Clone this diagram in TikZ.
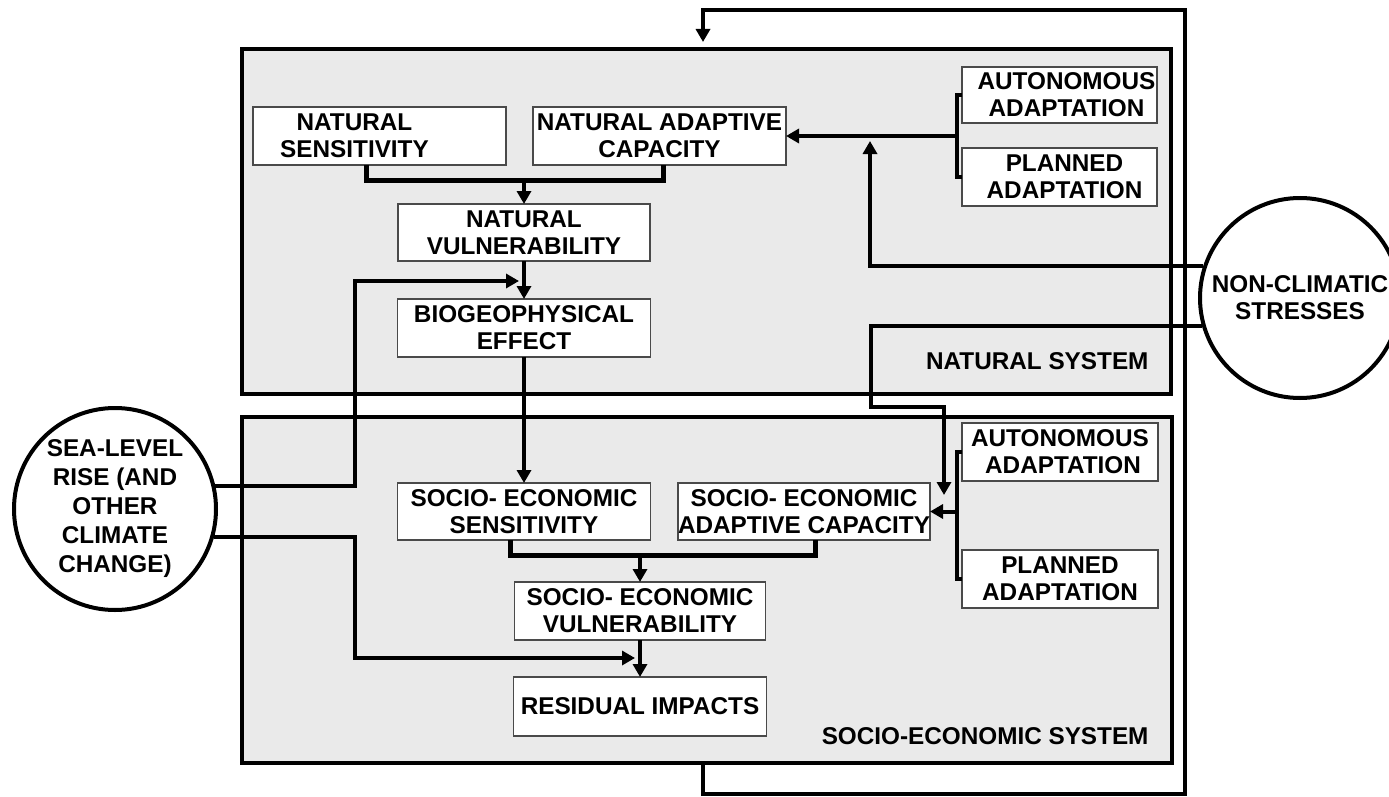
\documentclass[tikz,border=0pt]{standalone}
\usepackage{fontspec}
\setmainfont{Liberation Sans}
\usetikzlibrary{arrows.meta,calc}
\definecolor{sysgray}{HTML}{EAEAEA}
\definecolor{boxline}{HTML}{4A4A4A}
\begin{document}
\begin{tikzpicture}[x=1pt,y=-1pt,
  txt/.style={font=\fontsize{24.3}{27}\selectfont\bfseries, align=center},
  box/.style={txt, draw=boxline, line width=1.5pt, fill=white, inner sep=0pt, outer sep=0pt, minimum height=58pt},
  sys/.style={draw=black, line width=4pt, fill=sysgray, inner sep=0pt},
  circ/.style={circle, draw=black, line width=4pt, fill=white, inner sep=0pt, align=center},
  ln/.style={line width=4pt, line join=miter},
  mrg/.style={line width=5pt, line join=miter},
  arr/.style={line width=4pt, line join=miter, -{Triangle[width=14pt,length=13pt]}},
]
\useasboundingbox (0,0) rectangle (1389,797);

% system containers
\node[sys, minimum width=929pt, minimum height=345pt] (nat) at (706.5,221.5) {};
\node[sys, minimum width=930pt, minimum height=346pt] (soc) at (707,590) {};
\node[txt, anchor=base east] (natl) at (1152,369) {NATURAL SYSTEM};
\node[txt, anchor=base east] (socl) at (1152,744) {SOCIO-ECONOMIC SYSTEM};

% natural system boxes
\node[box, minimum width=253pt] (ns) at (379.5,136) {NATURAL\hspace*{50pt}\\SENSITIVITY\hspace*{50pt}};
\node[box, minimum width=253pt] (nac) at (659.5,136) {NATURAL ADAPTIVE\\CAPACITY};
\node[box, minimum width=252pt, minimum height=57pt] (nv) at (524,232.5) {NATURAL\\VULNERABILITY};
\node[box, minimum width=253pt] (bio) at (524,328) {BIOGEOPHYSICAL\\EFFECT};
\node[box, minimum width=195pt, minimum height=56pt] (aa1) at (1059.5,95) {\hspace*{14pt}AUTONOMOUS\\\hspace*{14pt}ADAPTATION};
\node[box, minimum width=195pt] (pa1) at (1059.5,177) {\hspace*{10pt}PLANNED\\\hspace*{10pt}ADAPTATION};

% socio-economic boxes
\node[box, minimum width=253pt, minimum height=57pt] (ses) at (524,511.5) {SOCIO- ECONOMIC\\SENSITIVITY};
\node[box, minimum width=252pt, minimum height=57pt] (sac) at (804,511.5) {SOCIO- ECONOMIC\\ADAPTIVE CAPACITY};
\node[box, minimum width=196pt] (aa2) at (1060,452) {AUTONOMOUS\\\hspace*{6pt}ADAPTATION};
\node[box, minimum width=196pt] (pa2) at (1060,579) {PLANNED\\ADAPTATION};
\node[box, minimum width=251pt] (sev) at (640,611) {SOCIO- ECONOMIC\\VULNERABILITY};
\node[box, minimum width=253pt, minimum height=59pt] (ri) at (640,706.5) {RESIDUAL IMPACTS};

% external drivers
\node[circ, minimum size=202pt, font=\fontsize{24.3}{29}\selectfont\bfseries] (slr) at (115,509) {SEA-LEVEL\\RISE (AND\\OTHER\\CLIMATE\\CHANGE)};
\node[circ, minimum size=200pt, font=\fontsize{24.3}{27}\selectfont\bfseries] (ncs) at (1300,298) {NON-CLIMATIC\\STRESSES};

% helper coordinates
\coordinate (m1) at (524,180);
\coordinate (m2) at (640,555);
\coordinate (j1) at (524,281);
\coordinate (j2) at (870,136);
\coordinate (j3) at (640,658);
\coordinate (j4) at (944,495);
\coordinate (k1) at (871,407);
\coordinate (sx) at (355,0);
\coordinate (bx) at (957,0);
\coordinate (c1) at (703,794);
\coordinate (c2) at (1185,10);
\coordinate (lt) at (703,42);

% natural system flows
\draw[mrg] ([xshift=-13pt]ns.south) |- (m1) -| ([xshift=4pt]nac.south);
\draw[arr] (m1) -- (nv.north);
\draw[arr] (nv.south) -- (bio.north);
\draw[ln] (aa1.west) -- ++(-5,0) |- (pa1.west);
\draw[arr] (nac.east -| bx) -- (nac.east);

% socio-economic flows
\draw[arr] (bio.south) -- (ses.north);
\draw[mrg] ([xshift=-14pt]ses.south) |- (m2) -| ([xshift=11pt]sac.south);
\draw[arr] (m2) -- (m2 |- sev.north);
\draw[arr] (sev.south) -- (ri.north);
\draw[ln] (aa2.west) -- ++(-5,0) |- (pa2.west);
\draw[arr] (sac.east -| bx) -- (sac.east);

% sea-level rise inputs
\draw[arr] (slr.13.5) -| (sx |- j1) -- ([xshift=-5pt]j1);
\draw[arr] (slr.-16.4) -| (sx |- j3) -- ([xshift=-5pt]j3);

% non-climatic stresses inputs
\draw[arr] (ncs.162.3) -| ([yshift=-5pt]j2);
\draw[arr] (ncs.196.5) -| (k1) -| (j4);

% feedback loop
\draw[arr] (soc.south -| c1) -- (c1) -| (c2) -| (lt);
\end{tikzpicture}
\end{document}
